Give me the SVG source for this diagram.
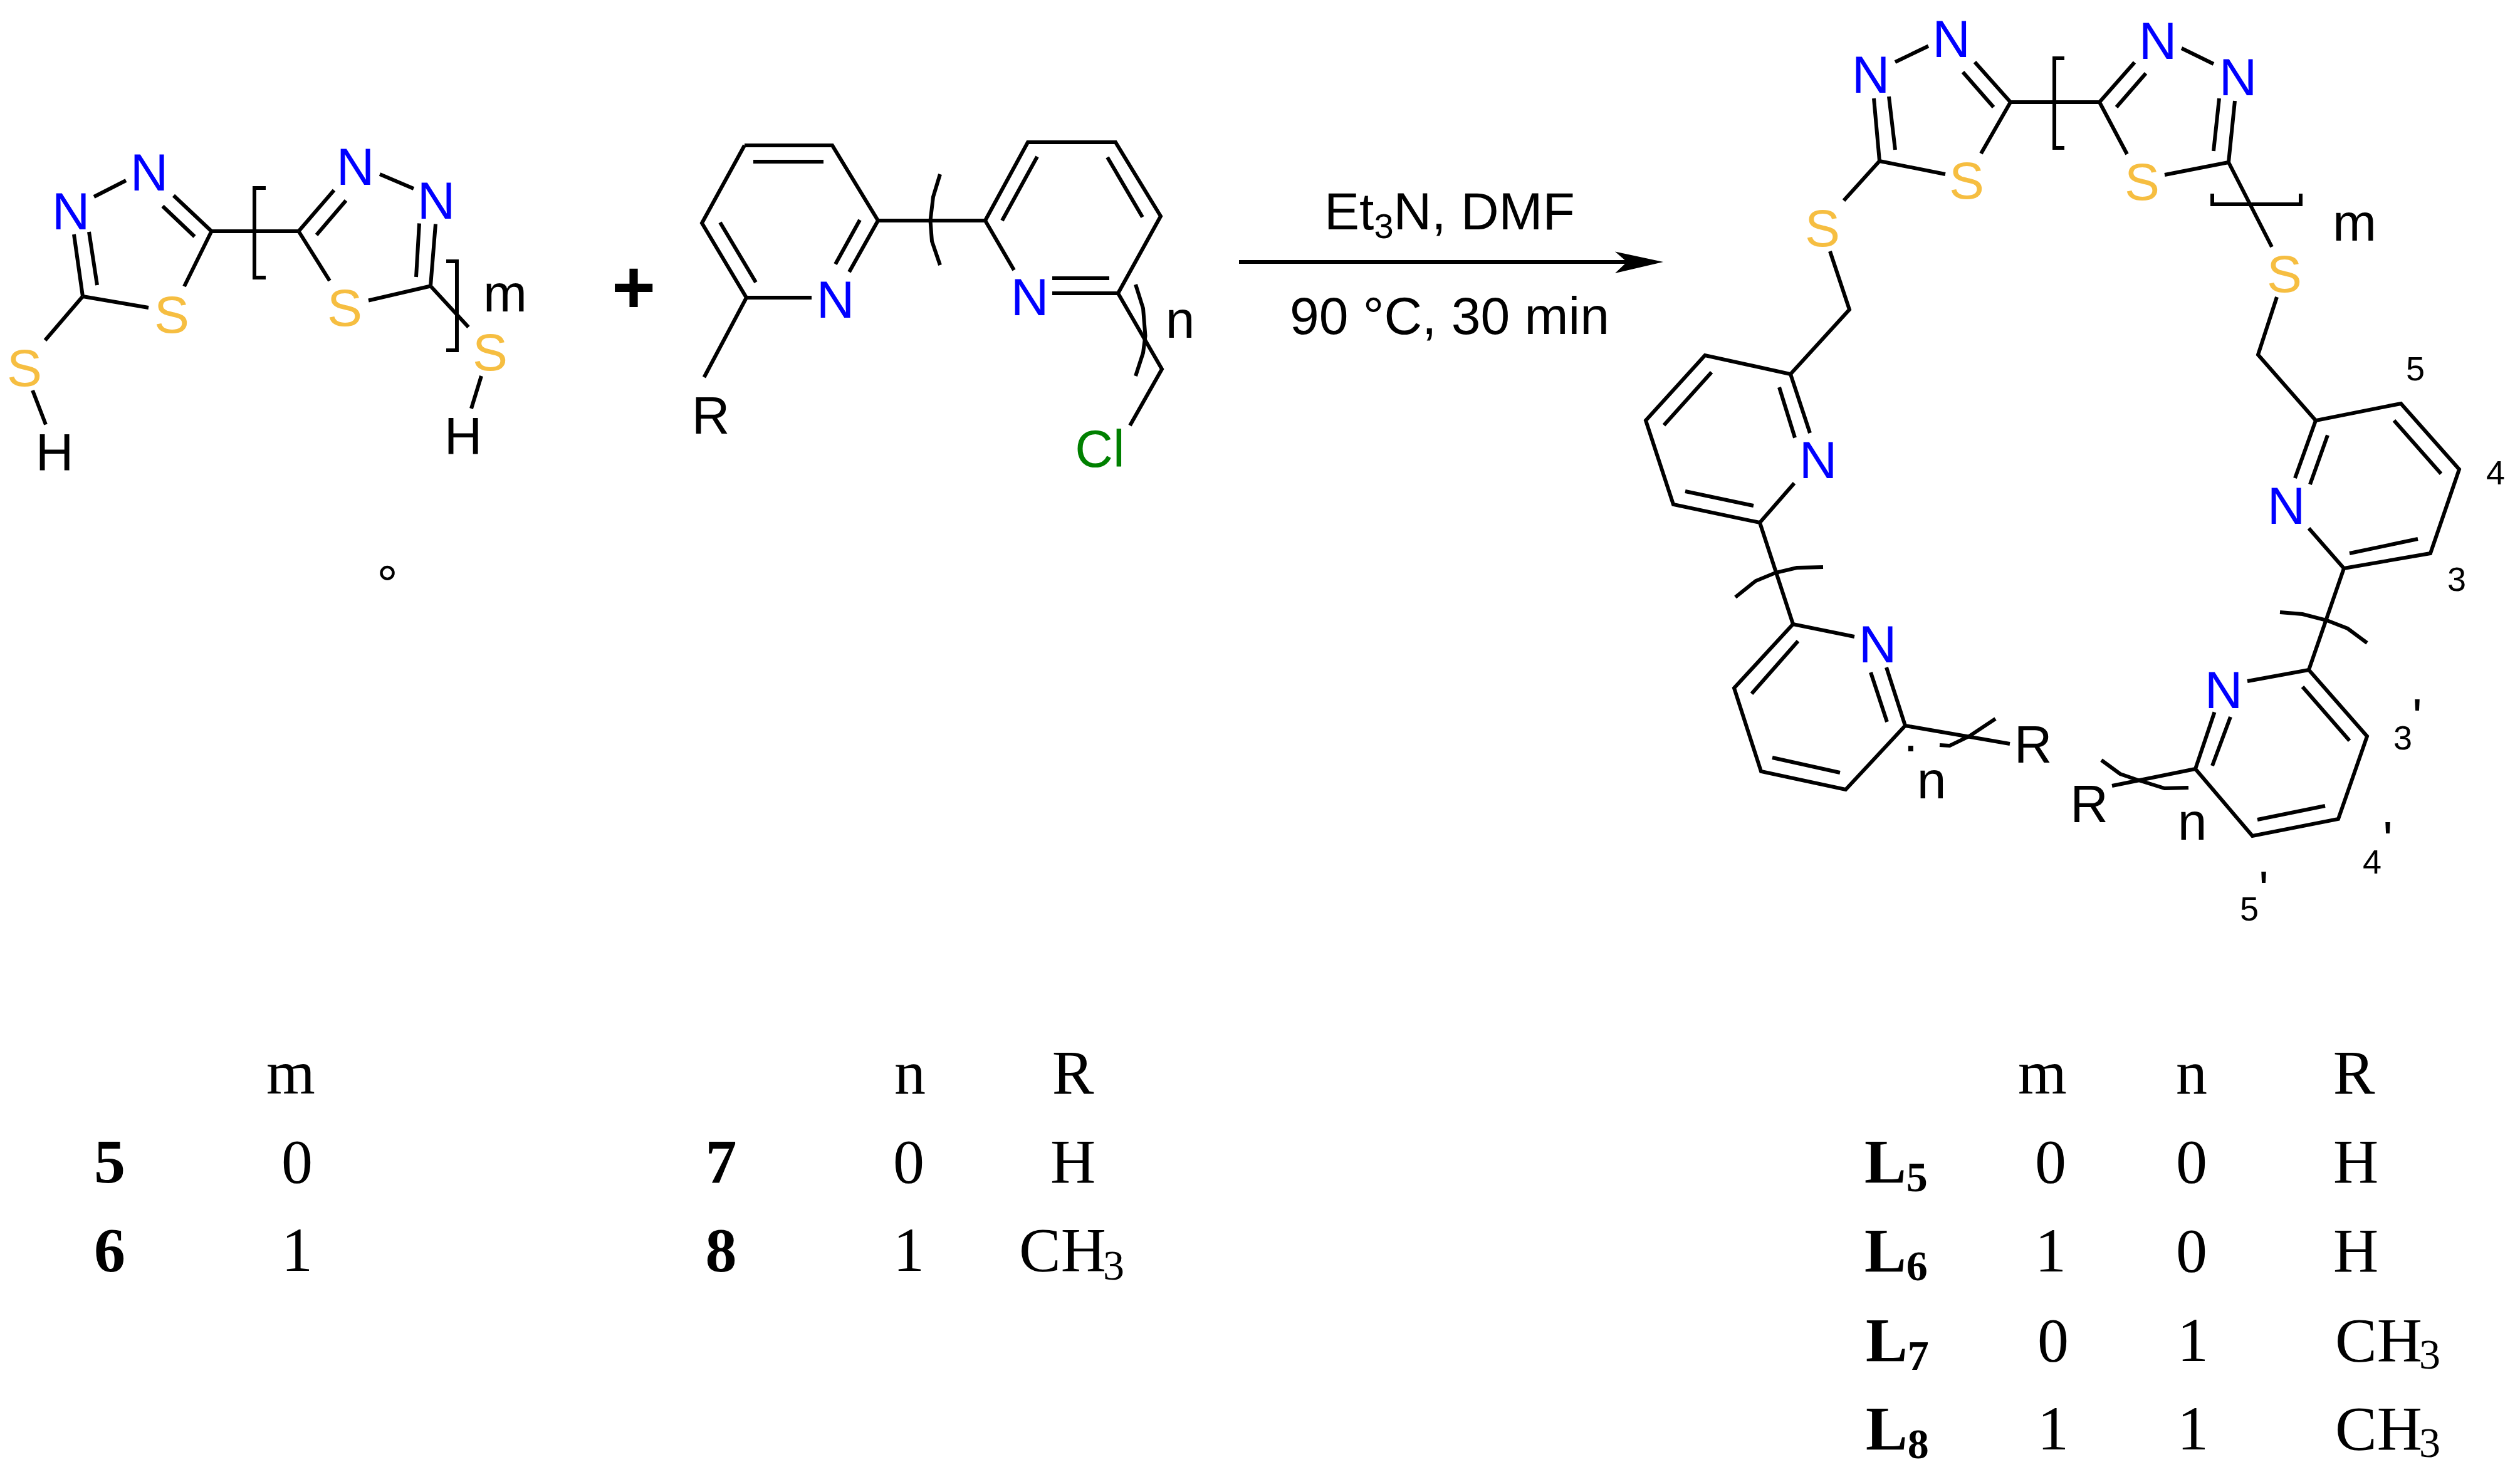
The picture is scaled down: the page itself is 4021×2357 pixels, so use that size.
<svg xmlns="http://www.w3.org/2000/svg" width="4021" height="2357" viewBox="0 0 4021 2357">
<style>
.b{fill:none;stroke:#000;stroke-width:6;stroke-linejoin:miter;stroke-linecap:butt}
.a{font-family:"Liberation Sans",Arial,sans-serif;font-size:84px;text-anchor:middle;fill:#000}
.N{fill:#0000ff}.S{fill:#f6be41}.Cl{fill:#008000}
.d{font-family:"Liberation Sans",Arial,sans-serif;font-size:54px;text-anchor:middle;fill:#000}
.t{font-family:"Liberation Serif","Times New Roman",serif;font-size:100px;fill:#000}
.m{text-anchor:middle}.c{font-weight:bold}
.s{font-size:68px}
</style>
<rect width="4021" height="2357" fill="#fff"/>
<g id="connectors" class="b">
<!-- reagent 5/6 -->
<path d="M118 374L132 473M142 370L155 455M150 314L201 288M277 312L337.500 369M259.500 329L310.500 377.500M337.500 369L294 457M132 473L237 491M132 473L72 543M52 623L73 677.500M337.500 369H476.500M424 300H406V443H424"/>
<path d="M476.500 369L533 303.500M505 375L552 320M606 278L660 301M695 357.500L687 456.500M669 356.500L664 442M476.500 369L526 448M588 479.500L687 456.500M687 456.500L747.500 522M712 417H729V559H712M768 600L752 652"/>
<!-- reagent 7/8 -->
<path d="M1188 232H1328L1401 352L1355 434M1202 258H1314M1372 351L1333 421.500M1295 475H1191L1120 356L1188 232M1149 355L1206 450.500M1191 475L1123.500 602M1401 352H1572"/>
<path d="M1500 278L1489 314L1484.500 352L1487 385L1500 423"/>
<path d="M1618 431L1572 352L1640 227H1780L1852 345L1784 468M1599 352L1655 250M1767 251L1823 346.500M1679 468H1784M1679 444H1770M1784 468L1854 589L1803 679"/>
<path d="M1812 454L1824 492L1827.500 536L1824 563L1812 600"/>
<!-- arrow -->
<path d="M1977 418H2600"/>
<polygon points="2654,418 2577,401.500 2596,418 2577,436" fill="#000" stroke="none"/>
<!-- product left thiadiazole -->
<path d="M2990 157L2999 257M3014 154L3024 239M3024 99L3077 73.500M3151 99L3208 163M3132 115L3181 171M3208 163L3161 245M2999 257L3104 278M2999 257L2942 320M2920 401L2951 494L2857 597"/>
<path d="M3208 163H3350M3294 93H3278V236H3294"/>
<!-- product right thiadiazole -->
<path d="M3350 163L3406 99.500M3424 117L3377 171M3481 77L3532 102M3566 161L3556 259M3541 157L3532 241M3350 163L3394 246M3454 279L3556 259M3556 259L3625 394M3633 474L3603 566L3695 671"/>
<path d="M3530 309V326H3671V309"/>
<!-- ring F -->
<path d="M2888 691L2857 597L2720.500 567L2626 671L2670 805L2808 834L2863 771M2839 618L2864 698.500M2731 594L2655 678.500M2689 784L2798 807M2808 834L2861 996"/>
<path d="M2769 953L2801.500 927L2833 914L2867 906L2909 905"/>
<!-- ring G -->
<path d="M2959 1016L2861 996L2767 1098L2810 1231L2945 1260L3040 1158L3010 1065M2869 1023L2795 1107M2828 1209L2936 1233M2985 1073L3011 1152M3040 1158L3207 1187"/>
<path d="M3184 1147L3142 1175L3111 1190L3095 1189"/>
<!-- ring H -->
<path d="M3662 763L3695 671L3831 644L3924 749L3878 883L3740 907L3684 843M3714 694.500L3686 773M3820 671L3895 756M3858 860L3749 883M3740 907L3684 1069"/>
<path d="M3638 977L3674 980L3713 990L3746 1003L3777 1026"/>
<!-- ring I -->
<path d="M3586 1087L3684 1069L3777 1175L3731 1307L3594 1334L3503 1227L3533.500 1136.500M3674 1096L3749 1182M3710 1286L3602 1308M3559 1144L3530 1222M3503 1227L3370 1254"/>
<path d="M3353 1213L3383 1235L3409 1244L3454 1258L3492 1257"/>
</g>
<g id="reagent-thiol">
<text class="a N" x="113" y="366">N</text><text class="a N" x="238" y="304">N</text><text class="a S" x="274" y="531">S</text>
<text class="a S" x="39" y="616">S</text><text class="a" x="87" y="751">H</text>
<text class="a N" x="567" y="295">N</text><text class="a N" x="696" y="349">N</text><text class="a S" x="550" y="520">S</text>
<text class="a S" x="782" y="591">S</text><text class="a" x="739" y="725">H</text><text class="a" x="806" y="497">m</text>
<text class="a" x="618" y="961">°</text>
</g>
<g id="plus"><text x="1011" y="500" style="font-family:'Liberation Sans',Arial,sans-serif;font-size:120px;font-weight:bold;text-anchor:middle">+</text></g>
<g id="reagent-bipyridine">
<text class="a N" x="1333" y="507">N</text><text class="a N" x="1643" y="503">N</text><text class="a" x="1134" y="692">R</text>
<text class="a" x="1883" y="539">n</text><text class="a Cl" x="1755" y="745">Cl</text>
</g>
<g id="conditions">
<text class="a" x="2313" y="366">Et<tspan font-size="56" dy="14">3</tspan><tspan dy="-14">N, DMF</tspan></text>
<text class="a" x="2313" y="533">90 °C, 30 min</text>
</g>
<g id="product">
<text class="a N" x="2985" y="148">N</text><text class="a N" x="3113.500" y="91">N</text><text class="a S" x="3138" y="317">S</text><text class="a S" x="2908" y="393">S</text>
<text class="a N" x="3443" y="94">N</text><text class="a N" x="3571" y="152">N</text><text class="a S" x="3418" y="319">S</text><text class="a S" x="3645" y="466">S</text>
<text class="a" x="3757" y="384">m</text>
<text class="a N" x="2901" y="763">N</text><text class="a N" x="2996" y="1057">N</text><text class="a N" x="3648" y="836">N</text><text class="a N" x="3548" y="1129.500">N</text>
<text class="a" x="3244" y="1217">R</text><text class="a" x="3333.500" y="1312">R</text><text class="a" x="3082" y="1274">n</text><text class="a" x="3498" y="1340">n</text>
<text class="a" x="3049" y="1199">.</text>
<text class="d" x="3854" y="607">5</text><text class="d" x="3982" y="773">4</text><text class="d" x="3920" y="943">3</text>
<text class="d" x="3834" y="1196">3</text><text class="a" x="3857" y="1173">'</text>
<text class="d" x="3785" y="1394">4</text><text class="a" x="3810" y="1369">'</text>
<text class="d" x="3589" y="1469">5</text><text class="a" x="3612" y="1448">'</text>
</g>
<g id="table-thiol" class="t">
<text class="t m" x="464" y="1745">m</text>
<text class="t m c" x="175" y="1887">5</text><text class="t m" x="474" y="1887">0</text>
<text class="t m c" x="175" y="2028">6</text><text class="t m" x="474" y="2028">1</text>
</g>
<g id="table-bipyridine" class="t">
<text class="t m" x="1452" y="1745">n</text><text class="t m" x="1712" y="1745">R</text>
<text class="t m c" x="1150.500" y="1887">7</text><text class="t m" x="1450" y="1887">0</text><text class="t m" x="1712" y="1887">H</text>
<text class="t m c" x="1150.500" y="2028">8</text><text class="t m" x="1450" y="2028">1</text><text class="t" x="1626" y="2028">CH<tspan class="s" dy="14" dx="-5">3</tspan></text>
</g>
<g id="table-ligands" class="t">
<text class="t m" x="3259" y="1745">m</text><text class="t m" x="3497" y="1745">n</text><text class="t m" x="3756" y="1745">R</text>
<text class="t c" x="2975" y="1887">L<tspan class="s" dy="14">5</tspan></text><text class="t m" x="3272" y="1887">0</text><text class="t m" x="3497" y="1887">0</text><text class="t m" x="3759" y="1887">H</text>
<text class="t c" x="2975" y="2029">L<tspan class="s" dy="14">6</tspan></text><text class="t m" x="3272" y="2029">1</text><text class="t m" x="3497" y="2029">0</text><text class="t m" x="3759" y="2029">H</text>
<text class="t c" x="2977" y="2172">L<tspan class="s" dy="14">7</tspan></text><text class="t m" x="3276" y="2172">0</text><text class="t m" x="3499" y="2172">1</text><text class="t" x="3726" y="2172">CH<tspan class="s" dy="12" dx="-5">3</tspan></text>
<text class="t c" x="2977" y="2313">L<tspan class="s" dy="14">8</tspan></text><text class="t m" x="3276" y="2313">1</text><text class="t m" x="3499" y="2313">1</text><text class="t" x="3726" y="2313">CH<tspan class="s" dy="12" dx="-5">3</tspan></text>
</g>
</svg>
